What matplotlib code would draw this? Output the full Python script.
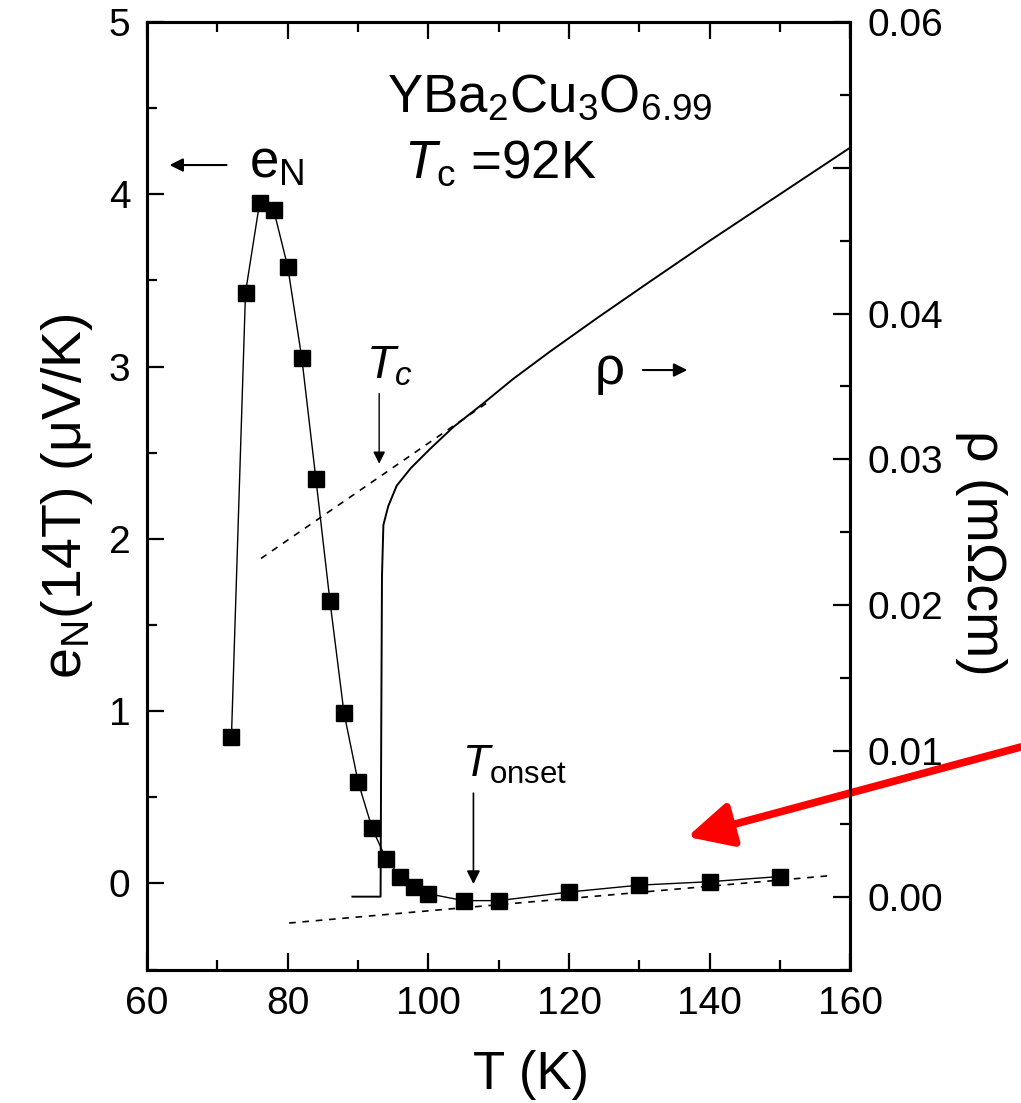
import matplotlib.pyplot as plt
from matplotlib.ticker import MultipleLocator, FixedLocator

plt.rcParams['font.family'] = ['Liberation Sans', 'DejaVu Sans']
plt.rcParams['mathtext.fontset'] = 'custom'
plt.rcParams['mathtext.rm'] = 'Liberation Sans'
plt.rcParams['mathtext.it'] = 'Liberation Sans:italic'

# Nernst signal e_N (14T)
T_eN = [72, 74, 76, 78, 80, 82, 84, 86, 88, 90, 92, 94, 96, 98, 100, 105, 110, 120, 130, 140, 150]
eN = [0.85, 3.43, 3.95, 3.91, 3.58, 3.05, 2.35, 1.64, 0.99, 0.59, 0.32, 0.14, 0.04, -0.02, -0.06,
      -0.10, -0.10, -0.05, -0.01, 0.01, 0.04]

# background of e_N (dashed)
T_bg = [80.2, 157.4]
eN_bg = [-0.23, 0.046]

# resistivity
T_rho = [89.2, 93.2, 93.3, 93.4, 93.6, 94.3, 95.5, 97.5, 100.2, 103.5, 107.7, 112.0, 117.3,
         124.0, 131.5, 140.0, 150.0, 160.0]
rho = [0.0, 0.0, 0.012, 0.022, 0.0255, 0.0268, 0.0282, 0.0294, 0.0307, 0.0322, 0.0338, 0.0355,
       0.0374, 0.0397, 0.0422, 0.0450, 0.0482, 0.0514]

# normal state extrapolation of rho (dashed)
T_ext = [76.2, 108.7]
rho_ext = [0.0232, 0.0340]

right_ticks = [0.0, 0.01, 0.02, 0.03, 0.04, 0.05, 0.06]
right_labels = ['0.00', '0.01', '0.02', '0.03', '0.04', '', '0.06']

fig = plt.figure(figsize=(10.21, 11.03), dpi=100)
ax = fig.add_axes([0.144, 0.121, 0.689, 0.859])
ax2 = ax.twinx()

ax.plot(T_eN, eN, color='black', lw=1.0, marker='s', ms=11.5, mfc='black', mec='black', zorder=3)
ax.plot(T_bg, eN_bg, color='black', lw=1.2, ls=(0, (4, 4)))

ax2.plot(T_rho, rho, color='black', lw=1.4)
ax2.plot(T_ext, rho_ext, color='black', lw=1.2, ls=(0, (4, 4)))

ax.set_xlim(60, 160)
ax.set_ylim(-0.5, 5)
ax2.set_ylim(-0.005, 0.06)

ax.xaxis.set_major_locator(MultipleLocator(20))
ax.xaxis.set_minor_locator(MultipleLocator(10))
ax.yaxis.set_major_locator(MultipleLocator(1))
ax.yaxis.set_minor_locator(MultipleLocator(0.5))
ax2.yaxis.set_major_locator(FixedLocator(right_ticks))
ax2.set_yticklabels(right_labels)
ax2.yaxis.set_minor_locator(MultipleLocator(0.005))

ax.tick_params(which='both', direction='in', top=True, right=False, labelsize=28, pad=12, width=1.6)
ax.tick_params(which='major', length=12)
ax.tick_params(which='minor', length=7)
ax2.tick_params(which='both', direction='in', labelsize=28, pad=12, width=1.6)
ax2.tick_params(which='major', length=12)
ax2.tick_params(which='minor', length=7)
for a in (ax, ax2):
    for s in a.spines.values():
        s.set_linewidth(2.2)

ax.set_xlabel('T (K)', fontsize=38)
ax.xaxis.set_label_coords(0.546, -0.085)
ax.set_ylabel('e$_{\\rm N}$(14T) (μV/K)', fontsize=40, labelpad=10)
ax2.set_ylabel('ρ (mΩcm)', fontsize=40, rotation=270, va='center')
ax2.yaxis.set_label_coords(1.185, 0.44)

# text labels
ax.text(117.3, 4.56, 'YBa$_{\\rm 2}$Cu$_{\\rm 3}$O$_{\\rm 6.99}$', fontsize=38, ha='center', va='center')
ax.text(96.6, 4.18, '$T_{\\rm c}$ =92K', fontsize=38, ha='left', va='center')
ax.text(74.5, 4.18, 'e$_{\\rm N}$', fontsize=38, ha='left', va='center')
ax.annotate('', xy=(62.8, 4.17), xytext=(71.7, 4.17),
            arrowprops=dict(arrowstyle='-|>', color='black', lw=1.5, mutation_scale=20))
ax.text(125.8, 2.98, 'ρ', fontsize=38, ha='center', va='center')
ax.annotate('', xy=(137.2, 2.98), xytext=(130.1, 2.98),
            arrowprops=dict(arrowstyle='-|>', color='black', lw=1.5, mutation_scale=20))
ax.text(94.5, 3.0, '$T_c$', fontsize=34, ha='center', va='center')
ax.annotate('', xy=(93.0, 2.42), xytext=(93.0, 2.86),
            arrowprops=dict(arrowstyle='-|>', color='black', lw=1.0, mutation_scale=18))
ax.text(112.3, 0.69, '$T_{\\rm onset}$', fontsize=32, ha='center', va='center')
ax.annotate('', xy=(106.4, -0.02), xytext=(106.4, 0.54),
            arrowprops=dict(arrowstyle='-|>', color='black', lw=1.2, mutation_scale=20))

# red arrow pointing at the high temperature data
ax.annotate('', xy=(136.8, 0.27), xytext=(1.0, 0.3228), textcoords='figure fraction',
            annotation_clip=False,
            arrowprops=dict(arrowstyle='-|>,head_length=0.9,head_width=0.45', color='red',
                            lw=5.5, mutation_scale=30, shrinkA=0, shrinkB=0))

fig.savefig('out.png', dpi=100)
